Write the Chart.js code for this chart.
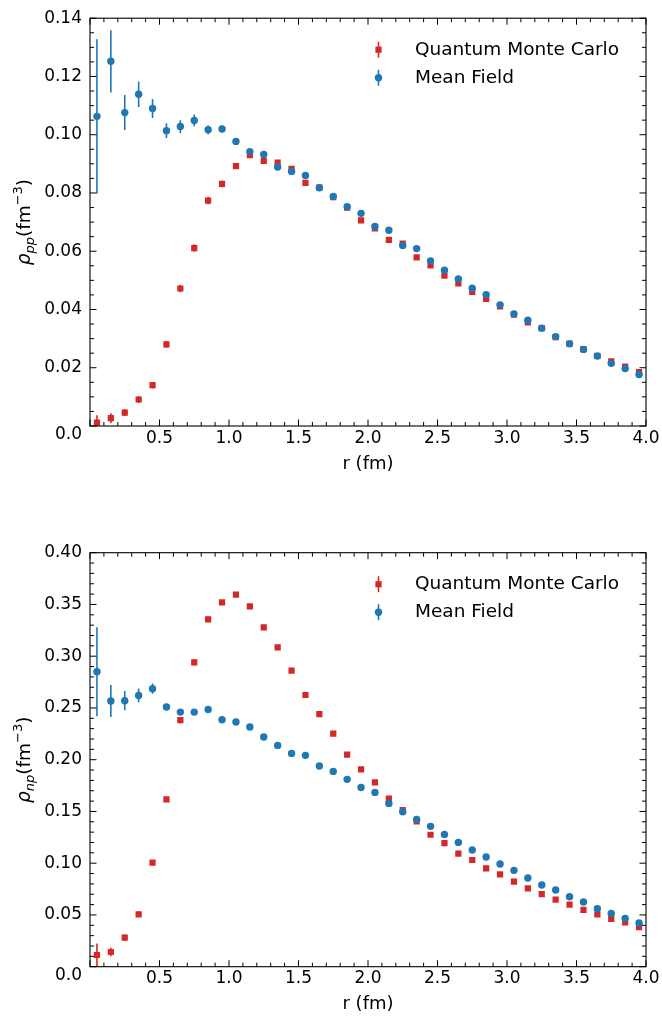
<!DOCTYPE html>
<html><head><meta charset="utf-8">
<script src="https://cdn.jsdelivr.net/npm/chart.js@4.4.1/dist/chart.umd.min.js"></script>
<style>
html,body{margin:0;padding:0;background:#fff;}
#wrap{position:relative;width:662px;height:1018px;overflow:hidden;}
.box{position:absolute;left:0;width:662px;height:509px;}
canvas{display:block;}
</style></head><body>
<div id="wrap">
<div class="box" style="top:0"><canvas id="c1" width="662" height="509"></canvas></div>
<div class="box" style="top:509px"><canvas id="c2" width="662" height="509"></canvas></div>
</div>
<script>
// ---- data ----
const r = [0.05,0.15,0.25,0.35,0.45,0.55,0.65,0.75,0.85,0.95,1.05,1.15,1.25,1.35,1.45,1.55,1.65,1.75,1.85,1.95,
           2.05,2.15,2.25,2.35,2.45,2.55,2.65,2.75,2.85,2.95,3.05,3.15,3.25,3.35,3.45,3.55,3.65,3.75,3.85,3.95];
const seriesNames = ['Quantum Monte Carlo', 'Mean Field'];

const ppQMC = [0.0012,0.0027,0.0046,0.0091,0.0140,0.0280,0.0472,0.0611,0.0774,0.0831,0.0892,0.0930,0.0910,0.0904,0.0883,0.0835,0.0818,0.0786,0.0750,0.0706,
               0.0678,0.0639,0.0626,0.0579,0.0551,0.0516,0.0490,0.0460,0.0436,0.0411,0.0382,0.0356,0.0336,0.0305,0.0283,0.0264,0.0241,0.0222,0.0204,0.0185];
const ppQMCerr = [0.0025,0.0017,0.0012,0.0012,0.0011,0.0011,0.0013,0.0013,0.0013,0.0011,0.0010,0.0009,0.0008,0.0008,0.0008,0.0007,0.0007,0.0007,0.0007,0.0006,
                  0.0006,0.0006,0.0006,0.0006,0.0005,0.0005,0.0005,0.0005,0.0005,0.0005,0.0005,0.0005,0.0005,0.0005,0.0005,0.0005,0.0005,0.0005,0.0005,0.0005];
const ppMF = [0.1063,0.1252,0.1076,0.1139,0.1090,0.1014,0.1028,0.1049,0.1017,0.1020,0.0977,0.0942,0.0932,0.0889,0.0874,0.0860,0.0818,0.0788,0.0753,0.0730,
              0.0685,0.0672,0.0620,0.0609,0.0567,0.0535,0.0505,0.0473,0.0451,0.0416,0.0385,0.0363,0.0336,0.0307,0.0282,0.0263,0.0240,0.0215,0.0197,0.0177];
const ppMFerr = [0.0265,0.0107,0.0060,0.0044,0.0033,0.0025,0.0022,0.0020,0.0015,0.0012,0.0010,0.0008,0.0008,0.0007,0.0007,0.0006,0.0006,0.0006,0.0005,0.0005,
                 0.0005,0.0005,0.0005,0.0005,0.0004,0.0004,0.0004,0.0004,0.0004,0.0004,0.0004,0.0004,0.0004,0.0004,0.0004,0.0004,0.0004,0.0004,0.0004,0.0004];

const npQMC = [0.0113,0.0142,0.0280,0.0506,0.1005,0.1617,0.2383,0.2940,0.3355,0.3520,0.3594,0.3481,0.3278,0.3085,0.2860,0.2625,0.2441,0.2251,0.2048,0.1906,
               0.1781,0.1623,0.1513,0.1404,0.1275,0.1195,0.1092,0.1031,0.0950,0.0892,0.0821,0.0757,0.0702,0.0647,0.0599,0.0548,0.0506,0.0461,0.0428,0.0383];
const npQMCerr = [0.0110,0.0040,0.0030,0.0025,0.0025,0.0025,0.0030,0.0030,0.0025,0.0020,0.0020,0.0018,0.0016,0.0015,0.0014,0.0013,0.0012,0.0011,0.0010,0.0010,
                  0.0009,0.0009,0.0008,0.0008,0.0008,0.0007,0.0007,0.0007,0.0007,0.0006,0.0006,0.0006,0.0006,0.0006,0.0006,0.0006,0.0006,0.0006,0.0006,0.0006];
const npMF = [0.2850,0.2567,0.2570,0.2621,0.2686,0.2509,0.2460,0.2460,0.2486,0.2386,0.2364,0.2316,0.2219,0.2138,0.2061,0.2042,0.1939,0.1887,0.1810,0.1732,
              0.1684,0.1578,0.1497,0.1423,0.1356,0.1278,0.1201,0.1127,0.1060,0.0992,0.0931,0.0857,0.0789,0.0741,0.0676,0.0625,0.0560,0.0515,0.0467,0.0422];
const npMFerr = [0.0430,0.0155,0.0093,0.0066,0.0050,0.0030,0.0025,0.0020,0.0018,0.0015,0.0014,0.0013,0.0012,0.0011,0.0010,0.0010,0.0009,0.0009,0.0008,0.0008,
                 0.0008,0.0007,0.0007,0.0007,0.0007,0.0006,0.0006,0.0006,0.0006,0.0006,0.0006,0.0006,0.0006,0.0006,0.0006,0.0006,0.0006,0.0006,0.0006,0.0006];

const xTickLabels = ['0.5','1.0','1.5','2.0','2.5','3.0','3.5','4.0'];

// ---- style ----
const FONT = "'DejaVu Sans', sans-serif";
const RED = '#d62728', BLUE = '#1f77b4';

function pts(ys) { return r.map((x, i) => ({x: x, y: ys[i]})); }

const decor = {
  id: 'decor',
  beforeDatasetDraw(chart, args) {
    const ds = chart.data.datasets[args.index];
    if (!ds.errors) return;
    const xs = chart.scales.x, ys = chart.scales.y, a = chart.chartArea, ctx = chart.ctx;
    ctx.save();
    ctx.beginPath(); ctx.rect(a.left, a.top, a.right - a.left, a.bottom - a.top); ctx.clip();
    ctx.strokeStyle = ds.color; ctx.lineWidth = 1.6;
    ds.data.forEach((p, i) => {
      const e = ds.errors[i];
      const x = xs.getPixelForValue(p.x);
      ctx.beginPath();
      ctx.moveTo(x, ys.getPixelForValue(p.y - e));
      ctx.lineTo(x, ys.getPixelForValue(p.y + e));
      ctx.stroke();
    });
    ctx.restore();
  },
  afterDatasetsDraw(chart, args, opts) {
    const ctx = chart.ctx, a = chart.chartArea, xs = chart.scales.x, ys = chart.scales.y;
    ctx.save();
    // spines
    ctx.strokeStyle = '#000'; ctx.lineWidth = 1.1;
    ctx.strokeRect(a.left, a.top, a.right - a.left, a.bottom - a.top);
    // ticks
    ctx.lineWidth = 1;
    const majL = 6.5, minL = 4;
    // x ticks every 0.1 (major each 0.5)
    for (let i = 0; i <= 40; i++) {
      const x = xs.getPixelForValue(i / 10);
      const L = (i % 5 === 0) ? majL : minL;
      ctx.beginPath();
      ctx.moveTo(x, a.bottom); ctx.lineTo(x, a.bottom - L);
      ctx.moveTo(x, a.top); ctx.lineTo(x, a.top + L);
      ctx.stroke();
    }
    const nMin = Math.round(opts.yMax / opts.yMinor);
    const per = Math.round(opts.yStep / opts.yMinor);
    for (let i = 0; i <= nMin; i++) {
      const y = ys.getPixelForValue(i * opts.yMinor);
      const L = (i % per === 0) ? majL : minL;
      ctx.beginPath();
      ctx.moveTo(a.left, y); ctx.lineTo(a.left + L, y);
      ctx.moveTo(a.right, y); ctx.lineTo(a.right - L, y);
      ctx.stroke();
    }
    // lowered zero label
    ctx.fillStyle = '#000';
    ctx.font = `17px ${FONT}`;
    ctx.textAlign = 'right'; ctx.textBaseline = 'middle';
    ctx.fillText('0.0', a.left - 8, ys.getPixelForValue(0) + 9);
    // legend
    const lx = 378.5, tx = 415;
    const rows = [a.top + 31.5, a.top + 59.5];
    ctx.font = `18.5px ${FONT}`; ctx.textAlign = 'left';
    chart.data.datasets.slice().sort((p, q) => p.legendIndex - q.legendIndex).forEach((ds, k) => {
      const y = rows[k];
      ctx.strokeStyle = ds.color; ctx.fillStyle = ds.color; ctx.lineWidth = 1.6;
      ctx.beginPath(); ctx.moveTo(lx, y - 8); ctx.lineTo(lx, y + 8); ctx.stroke();
      if (ds.pointStyle === 'rect') { ctx.fillRect(lx - 3.1, y - 3.1, 6.2, 6.2); }
      else { ctx.beginPath(); ctx.arc(lx, y, 3.7, 0, Math.PI * 2); ctx.fill(); }
      ctx.fillStyle = '#000';
      ctx.fillText(ds.label, tx, y);
    });
    // y title with sub/superscript
    const cy = (a.top + a.bottom) / 2;
    const fs = 18.5, ss = 13;
    const parts = [
      {t: 'ρ', f: `italic ${fs}px ${FONT}`, dy: 0},
      {t: opts.sub, f: `italic ${ss}px ${FONT}`, dy: 3.5},
      {t: '(fm', f: `${fs}px ${FONT}`, dy: 0},
      {t: '−3', f: `${ss}px ${FONT}`, dy: -8},
      {t: ')', f: `${fs}px ${FONT}`, dy: 0}
    ];
    let total = 0;
    parts.forEach(p => { ctx.font = p.f; p.w = ctx.measureText(p.t).width; total += p.w; });
    ctx.translate(30, cy); ctx.rotate(-Math.PI / 2);
    ctx.textAlign = 'left'; ctx.textBaseline = 'alphabetic'; ctx.fillStyle = '#000';
    let x = -total / 2;
    parts.forEach(p => { ctx.font = p.f; ctx.fillText(p.t, x, p.dy); x += p.w; });
    ctx.restore();
  }
};

function makeChart(id, cfg) {
  return new Chart(document.getElementById(id), {
    type: 'scatter',
    data: {
      datasets: [
        {label: seriesNames[0], data: pts(cfg.qmc), errors: cfg.qmcErr, color: RED, legendIndex: 0,
         pointStyle: 'rect', pointRadius: 4.4, backgroundColor: RED, borderColor: RED, borderWidth: 0, order: 2},
        {label: seriesNames[1], data: pts(cfg.mf), errors: cfg.mfErr, color: BLUE, legendIndex: 1,
         pointStyle: 'circle', pointRadius: 3.7, backgroundColor: BLUE, borderColor: BLUE, borderWidth: 0, order: 1}
      ]
    },
    options: {
      responsive: false, animation: false, events: [],
      layout: {padding: {left: 0, right: 16, top: cfg.top, bottom: 0}},
      plugins: {legend: {display: false}, tooltip: {enabled: false},
                decor: {yMax: cfg.yMax, yStep: cfg.yStep, yMinor: cfg.yMinor, sub: cfg.sub}},
      scales: {
        x: {type: 'linear', min: 0, max: 4,
            afterFit: s => { s.height = cfg.xh; },
            grid: {display: false, drawTicks: false}, border: {display: false},
            ticks: {stepSize: 0.5, autoSkip: false, maxRotation: 0, padding: 2, color: '#000',
                    font: {family: FONT, size: 17},
                    callback: v => { const k = Math.round(v * 2) - 1; return k >= 0 ? xTickLabels[k] : ''; }},
            title: {display: true, text: 'r (fm)', color: '#000', font: {family: FONT, size: 18},
                    padding: {top: 0, bottom: cfg.titlePad}}},
        y: {type: 'linear', min: 0, max: cfg.yMax,
            afterFit: s => { s.width = 90; },
            grid: {display: false, drawTicks: false}, border: {display: false},
            ticks: {stepSize: cfg.yStep, autoSkip: false, padding: 8, color: '#000',
                    font: {family: FONT, size: 17},
                    callback: v => { const k = Math.round(v / cfg.yStep); return k === 0 ? '' : cfg.yLabels[k - 1]; }}}
      }
    },
    plugins: [decor]
  });
}

makeChart('c1', {qmc: ppQMC, qmcErr: ppQMCerr, mf: ppMF, mfErr: ppMFerr,
  yMax: 0.14, yStep: 0.02, yMinor: 0.005, sub: 'pp', top: 12, xh: 83, titlePad: 34,
  yLabels: ['0.02','0.04','0.06','0.08','0.10','0.12','0.14']});
makeChart('c2', {qmc: npQMC, qmcErr: npQMCerr, mf: npMF, mfErr: npMFerr,
  yMax: 0.40, yStep: 0.05, yMinor: 0.01, sub: 'np', top: 43.7, xh: 51.3, titlePad: 3,
  yLabels: ['0.05','0.10','0.15','0.20','0.25','0.30','0.35','0.40']});
</script>
</body></html>
